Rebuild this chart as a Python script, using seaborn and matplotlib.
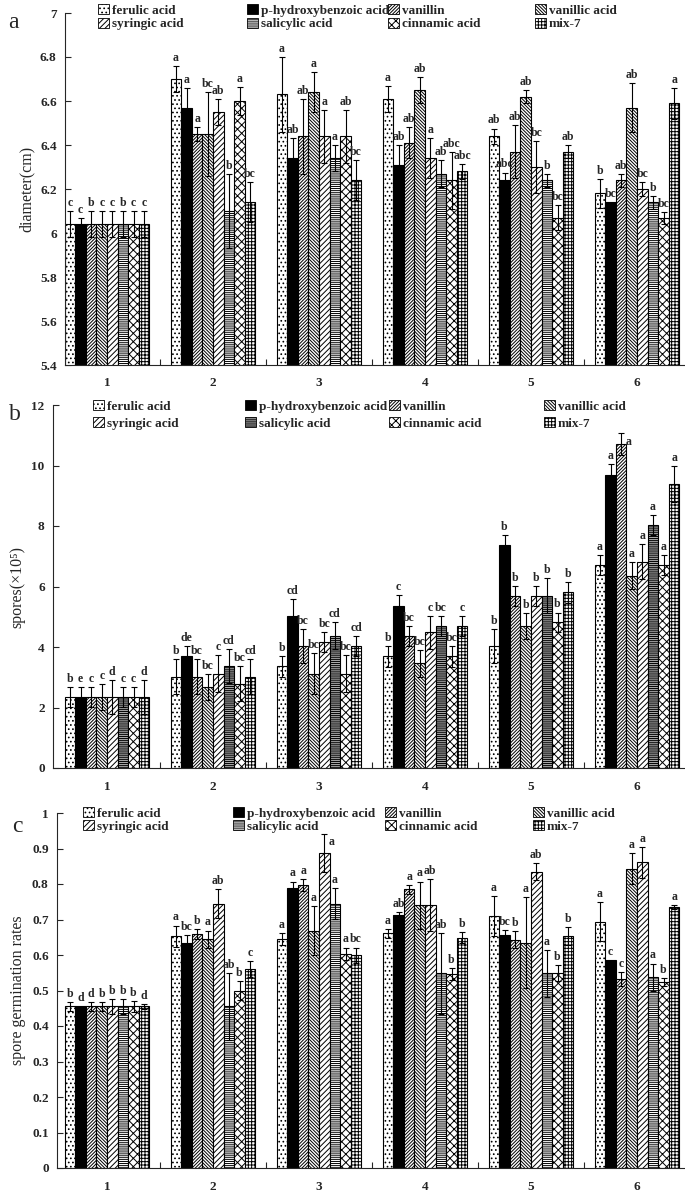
# Recreación de la figura de tres paneles (diámetro, esporas y germinación)
import numpy as np
import pandas as pd
import matplotlib
matplotlib.use('Agg')
import matplotlib.pyplot as plt
from matplotlib.patches import Patch
from matplotlib.ticker import FormatStrFormatter, MultipleLocator, FixedLocator
import seaborn as sns

sns.set_style('white')
plt.rcParams['font.family'] = ['Liberation Serif', 'DejaVu Serif']
plt.rcParams['font.weight'] = 'bold'
plt.rcParams['hatch.linewidth'] = 0.7

# Datos
groups = ['1', '2', '3', '4', '5', '6']
acids = ['ferulic acid', 'p-hydroxybenzoic acid', 'vanillin', 'vanillic acid',
         'syringic acid', 'salicylic acid', 'cinnamic acid', 'mix-7']

# Panel a: diámetro (cm)
diam_mean = [
    [6.04, 6.70, 6.63, 6.61, 6.44, 6.18],
    [6.04, 6.57, 6.34, 6.31, 6.24, 6.14],
    [6.04, 6.45, 6.44, 6.41, 6.37, 6.24],
    [6.04, 6.45, 6.64, 6.65, 6.62, 6.57],
    [6.04, 6.55, 6.44, 6.34, 6.30, 6.20],
    [6.04, 6.10, 6.34, 6.27, 6.24, 6.14],
    [6.04, 6.60, 6.44, 6.24, 6.07, 6.07],
    [6.04, 6.14, 6.24, 6.28, 6.37, 6.59],
]
diam_err = [
    [0.06, 0.06, 0.17, 0.06, 0.035, 0.065],
    [0.03, 0.09, 0.09, 0.09, 0.035, 0.0],
    [0.06, 0.03, 0.17, 0.07, 0.12, 0.03],
    [0.06, 0.19, 0.09, 0.06, 0.03, 0.11],
    [0.06, 0.06, 0.12, 0.09, 0.12, 0.03],
    [0.06, 0.17, 0.06, 0.06, 0.03, 0.03],
    [0.06, 0.065, 0.12, 0.13, 0.056, 0.027],
    [0.06, 0.09, 0.09, 0.035, 0.03, 0.07],
]
diam_letters = [
    ['c', 'a', 'a', 'a', 'ab', 'b'],
    ['c', 'a', 'ab', 'ab', 'abc', 'bc'],
    ['b', 'a', 'ab', 'ab', 'ab', 'ab'],
    ['c', 'bc', 'a', 'ab', 'ab', 'ab'],
    ['c', 'ab', 'a', 'a', 'bc', 'bc'],
    ['b', 'b', 'a', 'ab', 'b', 'b'],
    ['c', 'a', 'ab', 'abc', 'bc', 'bc'],
    ['c', 'bc', 'bc', 'abc', 'ab', 'a'],
]

# Panel b: esporas (x10^5)
spore_mean = [
    [2.35, 3.02, 3.36, 3.69, 4.03, 6.70],
    [2.35, 3.70, 5.03, 5.37, 7.36, 9.70],
    [2.35, 3.02, 4.03, 4.37, 5.70, 10.71],
    [2.35, 2.69, 3.12, 3.46, 4.70, 6.36],
    [2.35, 3.12, 4.16, 4.48, 5.70, 6.82],
    [2.35, 3.37, 4.37, 4.70, 5.70, 8.03],
    [2.35, 2.79, 3.12, 3.69, 4.81, 6.70],
    [2.35, 3.02, 4.03, 4.70, 5.81, 9.38],
]
spore_err = [
    [0.33, 0.58, 0.34, 0.34, 0.57, 0.33],
    [0.33, 0.33, 0.56, 0.34, 0.33, 0.34],
    [0.33, 0.58, 0.57, 0.33, 0.33, 0.35],
    [0.44, 0.43, 0.67, 0.45, 0.42, 0.44],
    [0.57, 0.60, 0.32, 0.55, 0.33, 0.58],
    [0.33, 0.57, 0.45, 0.33, 0.57, 0.34],
    [0.33, 0.59, 0.60, 0.34, 0.33, 0.33],
    [0.57, 0.58, 0.34, 0.33, 0.35, 0.59],
]
spore_letters = [
    ['b', 'b', 'b', 'b', 'b', 'a'],
    ['e', 'de', 'cd', 'c', 'b', 'a'],
    ['c', 'bc', 'bc', 'bc', 'b', 'a'],
    ['c', 'bc', 'bc', 'bc', 'b', 'a'],
    ['d', 'c', 'bc', 'c', 'b', 'a'],
    ['c', 'cd', 'cd', 'bc', 'b', 'a'],
    ['c', 'bc', 'bc', 'bc', 'b', 'a'],
    ['d', 'cd', 'cd', 'c', 'b', 'a'],
]

# Panel c: tasa de germinación
germ_mean = [
    [0.455, 0.653, 0.645, 0.661, 0.710, 0.694],
    [0.455, 0.635, 0.789, 0.713, 0.657, 0.585],
    [0.455, 0.659, 0.797, 0.785, 0.643, 0.533],
    [0.455, 0.644, 0.669, 0.740, 0.635, 0.843],
    [0.455, 0.745, 0.888, 0.742, 0.835, 0.861],
    [0.455, 0.455, 0.745, 0.549, 0.549, 0.538],
    [0.455, 0.500, 0.603, 0.547, 0.549, 0.523],
    [0.455, 0.561, 0.599, 0.649, 0.653, 0.736],
]
germ_err = [
    [0.013, 0.030, 0.018, 0.012, 0.056, 0.054],
    [0.0, 0.022, 0.018, 0.007, 0.014, 0.0],
    [0.013, 0.015, 0.018, 0.012, 0.024, 0.019],
    [0.013, 0.025, 0.070, 0.067, 0.129, 0.043],
    [0.020, 0.042, 0.054, 0.073, 0.023, 0.044],
    [0.020, 0.095, 0.044, 0.114, 0.066, 0.038],
    [0.015, 0.026, 0.018, 0.017, 0.022, 0.011],
    [0.008, 0.022, 0.022, 0.016, 0.026, 0.006],
]
germ_letters = [
    ['b', 'a', 'a', 'a', 'a', 'a'],
    ['d', 'bc', 'a', 'ab', 'bc', 'c'],
    ['d', 'b', 'a', 'a', 'b', 'c'],
    ['b', 'a', 'a', 'a', 'a', 'a'],
    ['b', 'ab', 'a', 'ab', 'ab', 'a'],
    ['b', 'ab', 'a', 'ab', 'a', 'a'],
    ['b', 'b', 'a', 'b', 'b', 'b'],
    ['d', 'c', 'bc', 'b', 'b', 'a'],
]

# Estilo de cada serie (relleno y trama)
hatches = ['....', '', '/' * 10, '\\' * 10, '/' * 6, '-' * 8, 'xxxx', '+' * 5]
faces = ['white', 'black', 'white', 'white', 'white', 'white', 'white', 'white']

W, H = 685, 1198
serif = ['Liberation Serif', 'DejaVu Serif']


def to_long(means):
    rows = []
    for acid, vals in zip(acids, means):
        for g, v in zip(groups, vals):
            rows.append({'group': g, 'acid': acid, 'value': v})
    return pd.DataFrame(rows)


def draw_panel(fig, box, means, errs, letters, ylim, ystep, ylabel, tag,
               tag_xy, leg_cols, leg_rows, leg_space, salicylic_face='white'):
    left, top, bottom = box
    ax = fig.add_axes([left / W, 1 - bottom / H, (W - left) / W, (bottom - top) / H])
    df = to_long(means)
    colors = list(faces)
    colors[5] = salicylic_face
    sns.barplot(data=df, x='group', y='value', hue='acid', order=groups,
                hue_order=acids, palette=colors, edgecolor='black',
                linewidth=0.8, width=0.8, errorbar=None, legend=False, ax=ax)

    bar_conts = list(ax.containers)
    for i, cont in enumerate(bar_conts):
        for j, bar in enumerate(cont.patches):
            bar.set_hatch(hatches[i])
            bar.set_edgecolor('black')
            xc = bar.get_x() + bar.get_width() / 2
            m = means[i][j]
            e = errs[i][j]
            if e > 0:
                ax.errorbar(xc, m, yerr=e, fmt='none', ecolor='black',
                            elinewidth=0.8, capsize=2.5, capthick=0.8)
            # letras muy altas van al lado del error, como en el original
            if (m + e - ylim[0]) / (ylim[1] - ylim[0]) > 0.92:
                ax.annotate(letters[i][j], (xc, m + e), xytext=(3, -2),
                            textcoords='offset points', ha='left', va='top',
                            fontsize=8.5, fontweight='bold', family=serif)
            else:
                ax.annotate(letters[i][j], (xc, m + e), xytext=(0, 1.5),
                            textcoords='offset points', ha='center', va='bottom',
                            fontsize=8.5, fontweight='bold', family=serif)

    # ejes
    ax.set_xlim((left - 107) / 106.0, (W - 107) / 106.0)
    ax.set_ylim(*ylim)
    ax.yaxis.set_major_locator(MultipleLocator(ystep))
    ax.yaxis.set_major_formatter(FormatStrFormatter('%g'))
    ax.xaxis.set_minor_locator(FixedLocator([0.5, 1.5, 2.5, 3.5, 4.5]))
    ax.tick_params(axis='y', direction='in', length=4, width=0.8, left=True,
                   pad=6, labelsize=9.5)
    ax.tick_params(axis='x', which='major', length=0, pad=9, labelsize=9.5)
    ax.tick_params(axis='x', which='minor', direction='in', length=4, width=0.8, bottom=True)
    ax.spines['top'].set_visible(False)
    ax.spines['right'].set_visible(False)
    ax.spines['left'].set_linewidth(0.8)
    ax.spines['bottom'].set_linewidth(0.8)
    ax.set_xlabel('')
    ax.set_ylabel(ylabel, fontsize=11.5, fontweight='normal', labelpad=4)

    fig.text(tag_xy[0] / W, 1 - tag_xy[1] / H, tag, fontsize=17,
             fontweight='normal', ha='left', va='center')

    # leyenda en cuatro columnas fijas
    handles = []
    for i in range(8):
        fc = salicylic_face if i == 5 else faces[i]
        handles.append(Patch(facecolor=fc, edgecolor='black', hatch=hatches[i],
                             linewidth=0.6, label=acids[i]))
    order = [(0, 4), (1, 5), (2, 6), (3, 7)]
    for col, (a, b) in zip(leg_cols, order):
        fig.legend(handles=[handles[a], handles[b]], loc='upper left',
                   bbox_to_anchor=(col / W, 1 - (leg_rows - 6) / H),
                   frameon=False, borderpad=0, borderaxespad=0,
                   handlelength=0.8, handleheight=0.8, handletextpad=0.25,
                   labelspacing=leg_space,
                   prop={'family': serif, 'weight': 'bold', 'size': 9.5})
    return ax


fig = plt.figure(figsize=(W / 100, H / 100), dpi=100)

draw_panel(fig, (65, 13, 365), diam_mean, diam_err, diam_letters,
           (5.4, 7.0), 0.2, 'diameter(cm)', 'a', (8, 23),
           [98, 247, 388, 535], 10, 0.08)
draw_panel(fig, (53, 405, 768), spore_mean, spore_err, spore_letters,
           (0, 12), 2, 'spores(×10⁵)', 'b', (9, 415),
           [93, 245, 389, 544], 406, 0.33, salicylic_face='#a8a8a8')
draw_panel(fig, (57, 813, 1168), germ_mean, germ_err, germ_letters,
           (0, 1.0), 0.1, 'spore germination rates', 'c', (12, 826),
           [83, 233, 385, 533], 813, 0.05)

fig.savefig('out.png', dpi=100)
